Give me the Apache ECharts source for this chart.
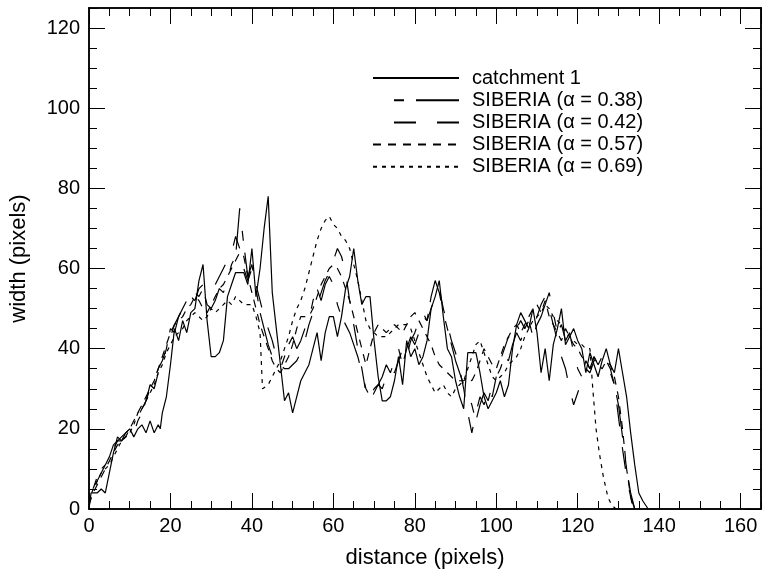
<!DOCTYPE html>
<html><head><meta charset="utf-8">
<script src="https://cdn.jsdelivr.net/npm/echarts@6/dist/echarts.min.js"></script>
<style>html,body{margin:0;padding:0;background:#fff}#c{width:762px;height:574px}</style>
</head><body><div id="c"></div>
<script>
const seriesNames = ['catchment 1','SIBERIA (\u03b1 = 0.38)','SIBERIA (\u03b1 = 0.42)','SIBERIA (\u03b1 = 0.57)','SIBERIA (\u03b1 = 0.69)'];
const xTicks = [0,20,40,60,80,100,120,140,160];
const yTicks = [0,20,40,60,80,100,120];

const catchment = [[0,0],[0.5,4],[2,4],[3,5],[4,4],[5,9],[6,14],[7,18],[8,17],[9,19],[10,20],[11,18],[12,20],[13,21],[14,19],[15,22],[16,19],[17,21],[17.5,20],[18,24],[19,28],[20,36],[21,45],[22,42],[23,47],[24,44],[25,49],[26,50],[27,57],[28,61],[29,47],[30,38],[31,38],[32,39],[33,42],[34,53],[35,56],[36,59],[38,59],[39,56],[40,65],[41,53],[42,60],[43,70],[44,78],[45,54],[46,45],[47,36],[48,27],[49,29],[50,24],[51,28],[52,32],[53,34],[54,36],[55,40],[56,44],[57,37],[58,44],[59,48],[60,48],[61,43],[62,48],[63,55],[64,58],[65,65],[66,57],[67,51],[68,53],[69,53],[70,42],[71,33],[72,27],[73,27],[74,28],[75,32],[76,38],[77,31],[78,42],[79,38],[80,40],[81,36],[82,38],[83,42],[84,50],[85,53],[86,57],[87,48],[88,40],[89,38],[90,32],[91,28],[92,25],[93,39],[95,39],[96,34],[97,28],[98,25],[99,27],[100,29],[101,32],[102,28],[103,31],[104,40],[105,46],[106,49],[107,47],[108,45],[109,50],[110,44],[111,34],[112,40],[113,32],[114,41],[115,45],[116,50],[117,41],[118,43],[119,45],[120,42],[121,40],[122,34],[123,39],[124,36],[125,33],[126,37],[127,40],[128,36],[129,34],[130,40],[131,34],[132,28],[133,19],[134,11],[135,4],[136,2],[137.3,0]];

const sib038 = [[0,0],[1,5],[2,8],[3,10],[4,11],[5,13],[6,16],[7,17],[8,17],[9,18],[10,20],[11,19],[12,22],[13,24],[14,27],[15,31],[16,30],[17,34],[18,36],[19,40],[20,45],[21,44],[22,48],[23,50],[24,52],[25,55],[26,54],[27,53],[28,55],[29,51],[30,50],[31,52],[32,55],[33,54],[34,57],[35,61],[36,63],[37,75],[38,66],[39,58],[40,61],[41,55],[42,49],[43,45],[44,41],[45,38],[46,36],[47,35],[48,38],[49,41],[50,43],[51,40],[52,42],[53,45],[54,47],[55,52],[56,55],[57,52],[58,56],[59,58],[60,56],[61,51],[62,48],[63,46],[64,44],[65,41],[66,38],[67,34],[68,30],[69,28],[70,30],[71,31],[72,33],[73,36],[74,34],[75,37],[76,40],[77,36],[78,40],[79,43],[80,41],[81,44],[82,48],[83,47],[84,53],[85,57],[86,54],[87,49],[88,45],[89,41],[90,37],[91,34],[92,31],[93,29],[94,26],[95,22],[96,26],[97,29],[98,27],[99,31],[100,33],[101,35],[102,38],[103,37],[104,41],[105,44],[106,42],[107,45],[108,47],[109,43],[110,46],[111,48],[112,51],[113,54],[114,49],[115,44],[116,46],[117,42],[118,44],[119,39],[120,35],[121,33],[122,37],[123,35],[124,38],[125,36],[126,38],[127,36],[128,34],[129,31],[130,26],[131,18],[132,10],[133,4],[134,0]];

const sib042 = [[0,1],[1,4],[2,7],[3,9],[4,11],[5,13],[6,15],[7,17],[8,18],[9,19],[10,20],[11,21],[12,23],[13,25],[14,27],[15,30],[16,32],[17,35],[18,37],[19,40],[20,43],[21,46],[22,48],[23,50],[24,51],[25,53],[26,52],[27,55],[28,56],[29,55],[30,54],[31,56],[32,58],[33,60],[34,62],[35,64],[36,68],[37,65],[38,60],[39,57],[40,60],[41,56],[42,52],[43,48],[44,45],[45,42],[46,38],[47,36],[48,35],[49,35],[50,36],[51,37],[52,39],[53,42],[54,46],[55,49],[56,51],[57,54],[58,57],[59,59],[60,62],[61,65],[62,63],[63,59],[64,52],[65,46],[66,40],[67,35],[68,29],[69,27],[70,29],[71,31],[72,30],[73,33],[74,35],[75,34],[76,37],[77,40],[78,38],[79,42],[80,44],[81,47],[82,49],[83,47],[84,50],[85,53],[86,55],[87,50],[88,46],[89,42],[90,39],[91,35],[92,30],[93,24],[94,19],[95,24],[96,28],[97,26],[98,30],[99,28],[100,33],[101,37],[102,40],[103,43],[104,42],[105,45],[106,47],[107,45],[108,47],[109,45],[110,48],[111,51],[112,53],[113,50],[114,46],[115,42],[116,38],[117,35],[118,30],[119,26],[120,29],[121,32],[122,35],[123,34],[124,37],[125,38],[126,39],[127,37],[128,35],[129,31],[130,23],[131,15],[132,8],[133,3],[134,0]];

const sib057 = [[0,1],[1,4],[2,6],[3,8],[4,10],[5,12],[6,14],[7,16],[8,17],[9,18],[10,20],[11,22],[12,24],[13,26],[14,28],[15,30],[16,32],[17,35],[18,38],[19,41],[20,44],[21,46],[22,47],[23,48],[24,50],[25,51],[26,53],[27,52],[28,50],[29,49],[30,51],[31,53],[32,55],[33,56],[34,58],[35,60],[36,62],[37,64],[38,63],[39,58],[40,54],[41,50],[42,46],[43,43],[44,40],[45,37],[46,35],[47,34],[48,36],[49,38],[50,41],[51,45],[52,48],[53,48],[54,48],[55,50],[56,53],[57,56],[58,58],[59,60],[60,61],[61,60],[62,58],[63,55],[64,52],[65,48],[66,44],[67,40],[68,36],[69,40],[70,44],[71,46],[72,45],[73,44],[74,45],[75,46],[76,45],[77,44],[78,46],[79,48],[80,49],[81,47],[82,45],[83,43],[84,41],[85,38],[86,36],[87,35],[88,34],[89,33],[90,32],[91,32],[92,32],[93,33],[94,32],[95,34],[96,37],[97,40],[98,38],[99,36],[100,35],[101,38],[102,41],[103,43],[104,45],[105,46],[106,44],[107,46],[108,48],[109,50],[110,51],[111,49],[112,52],[113,48],[114,46],[115,44],[116,42],[117,45],[118,43],[119,41],[120,40],[121,38],[122,37],[123,35],[124,38],[125,36],[126,35],[127,37],[128,36],[129,33],[130,28],[131,20],[132,10],[133,3],[133.6,0]];

const sib069 = [[0,2],[1,5],[2,7],[3,9],[4,10],[5,11],[6,13],[7,15],[8,17],[9,18],[10,19],[11,21],[12,24],[13,25],[14,27],[15,29],[16,31],[17,34],[18,36],[19,39],[20,41],[21,43],[22,44],[23,45],[24,47],[25,48],[26,49],[27,48],[28,47],[29,48],[30,50],[31,49],[32,50],[33,51],[34,52],[35,51],[36,53],[37,52],[38,51],[39,51],[40,51],[41,48],[42,44],[42.6,30],[44,31],[45,33],[46,35],[47,37],[48,40],[49,43],[50,47],[51,50],[52,52],[53,55],[54,59],[55,63],[56,67],[57,70],[58,72],[59,73],[60,71],[61,70],[62,68],[63,67],[64,65],[65,61],[66,57],[67,52],[68,47],[69,45],[70,44],[71,43],[72,43],[73,43],[74,44],[75,45],[76,46],[77,46],[78,46],[79,45],[80,42],[81,39],[82,36],[83,33],[84,31],[85,29],[86,30],[87,31],[88,29],[89,28],[90,30],[91,31],[92,32],[93,35],[94,38],[95,41],[96,42],[97,39],[98,36],[99,33],[100,32],[101,33],[102,34],[103,36],[104,37],[105,38],[106,40],[107,43],[108,45],[109,47],[110,48],[111,49],[112,51],[113,50],[114,48],[115,47],[116,46],[117,44],[118,43],[119,42],[120,41],[121,41],[122,40],[123,40],[123.7,30],[124.5,20],[125.3,14],[126.3,8],[127.4,3],[128.3,1],[129.4,0]];

const FONT = 'Liberation Sans';
const chart = echarts.init(document.getElementById('c'), null, {renderer:'canvas'});

function xAxisDef(pos, interval, tickLen, showLabel, name) {
  return {
    type:'value', position:pos, min:0, max:165, interval:interval,
    axisLine:{show:true, onZero:false, lineStyle:{color:'#000', width:1.5}},
    axisTick:{show:true, inside:true, length:tickLen, lineStyle:{color:'#000', width:1}},
    axisLabel:{show:showLabel, color:'#000', fontSize:20, fontFamily:FONT, margin:7, showMaxLabel:false,
      formatter: v => xTicks.indexOf(v) >= 0 ? String(v) : ''},
    splitLine:{show:false},
    name: name || '', nameLocation:'middle', nameGap:38,
    nameTextStyle:{color:'#000', fontSize:22, fontFamily:FONT}
  };
}
function yAxisDef(pos, interval, tickLen, showLabel, name) {
  return {
    type:'value', position:pos, min:0, max:125, interval:interval,
    axisLine:{show:true, onZero:false, lineStyle:{color:'#000', width:1.5}},
    axisTick:{show:true, inside:true, length:tickLen, lineStyle:{color:'#000', width:1}},
    axisLabel:{show:showLabel, color:'#000', fontSize:20, fontFamily:FONT, margin:9, showMaxLabel:false,
      formatter: v => yTicks.indexOf(v) >= 0 ? String(v) : ''},
    splitLine:{show:false},
    name: name || '', nameLocation:'middle', nameGap:59,
    nameTextStyle:{color:'#000', fontSize:22, fontFamily:FONT}
  };
}

function lineSeries(name, data, dash, offset) {
  return {
    name:name, type:'line', data:data, xAxisIndex:0, yAxisIndex:0,
    symbol:'none', showSymbol:false, animation:false, silent:true,
    itemStyle:{color:'#000'},
    lineStyle:{color:'#000', width:1.2, type:dash, dashOffset:offset||0}
  };
}

chart.setOption({
  backgroundColor:'#fff',
  animation:false,
  grid:{left:89, right:1, top:8, bottom:64, containLabel:false},
  xAxis:[
    xAxisDef('bottom', 20, 16, true, 'distance (pixels)'),
    xAxisDef('bottom', 5, 8, false),
    xAxisDef('top', 20, 16, false),
    xAxisDef('top', 5, 8, false)
  ],
  yAxis:[
    yAxisDef('left', 20, 16, true, 'width (pixels)'),
    yAxisDef('left', 5, 8, false),
    yAxisDef('right', 20, 16, false),
    yAxisDef('right', 5, 8, false)
  ],
  legend:{
    show:true, orient:'vertical', left:372, top:68, padding:0,
    itemWidth:86, itemHeight:14, itemGap:2.2,
    itemStyle:{opacity:0, color:'rgba(0,0,0,0)', borderWidth:0},
    textStyle:{color:'#000', fontSize:20, fontFamily:FONT, padding:[0,0,0,8]},
    data:seriesNames
  },
  series:[
    lineSeries(seriesNames[0], catchment, 'solid'),
    lineSeries(seriesNames[1], sib038, [10,12,43,21], 65),
    lineSeries(seriesNames[2], sib042, [22,21], 22),
    lineSeries(seriesNames[3], sib057, [8,7], 0),
    lineSeries(seriesNames[4], sib069, [4,5], 0)
  ]
});
</script>
</body></html>
